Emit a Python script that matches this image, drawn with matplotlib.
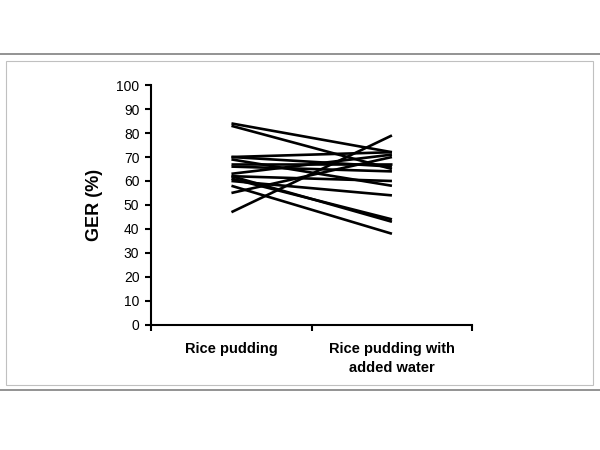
import matplotlib.pyplot as plt
from matplotlib.lines import Line2D
from matplotlib.patches import Rectangle

plt.rcParams['font.family'] = ['Liberation Sans', 'DejaVu Sans']

categories = ['Rice pudding', 'Rice pudding with\nadded water']
rice_pudding = [84, 83, 70, 69, 70, 67, 66, 63, 62, 61, 62, 60, 58, 55, 47]
with_water = [72, 65, 72, 58, 66, 67, 64, 71, 60, 44, 43, 54, 38, 70, 79]

fig = plt.figure(figsize=(6, 4.5), dpi=100)
ax = fig.add_axes([0.252, 0.278, 0.535, 0.533])

# outer frame like the source slide
fig.add_artist(Line2D([0, 1], [1 - 54 / 450, 1 - 54 / 450], color='#808080', lw=1.2))
fig.add_artist(Line2D([0, 1], [1 - 390 / 450, 1 - 390 / 450], color='#808080', lw=1.2))
fig.add_artist(Rectangle((6 / 600, 1 - 385 / 450), 587 / 600, 324 / 450,
                         fill=False, edgecolor='#c0c0c0', lw=0.8))

for a, b in zip(rice_pudding, with_water):
    ax.plot([0.5, 1.5], [a, b], color='black', lw=1.9, solid_capstyle='butt')

ax.set_xlim(0, 2)
ax.set_ylim(0, 100)
ax.set_yticks(range(0, 101, 10))
ax.set_xticks([0, 1, 2])
ax.set_xticklabels([])
ax.set_xticks([0.5, 1.5], minor=True)
ax.set_xticklabels(categories, minor=True, fontsize=10.5, fontweight='bold',
                   linespacing=1.45)
ax.tick_params(axis='x', which='minor', length=0, pad=12)
ax.tick_params(axis='x', which='major', length=4.5, width=1.5, direction='out')
ax.tick_params(axis='y', length=4.5, width=1.5, direction='out', labelsize=10, pad=4)
ax.set_ylabel('GER (%)', fontsize=13, fontweight='bold')
ax.yaxis.set_label_coords(-0.15, 0.5)

ax.spines['right'].set_visible(False)
ax.spines['top'].set_visible(False)
ax.spines['left'].set_linewidth(1.5)
ax.spines['bottom'].set_linewidth(1.5)

fig.savefig('out.png', dpi=100)
